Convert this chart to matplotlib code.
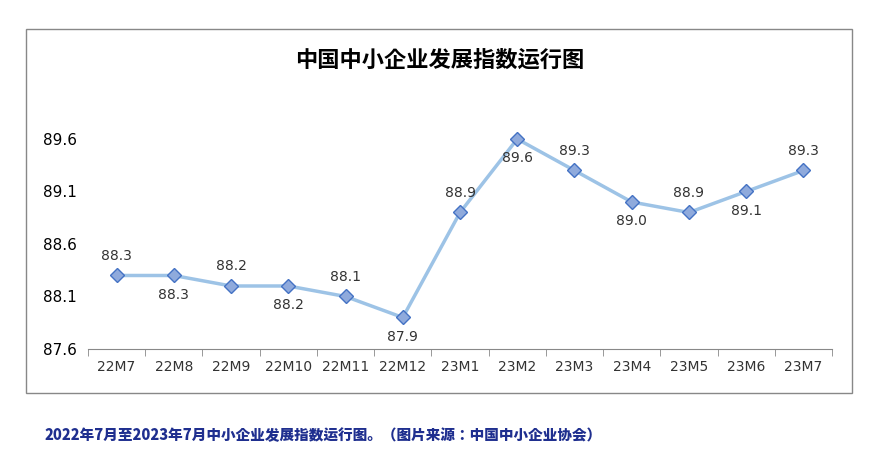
import matplotlib
matplotlib.use("Agg")
import matplotlib.pyplot as plt
from matplotlib.patches import Rectangle
from matplotlib.ticker import FixedLocator
from matplotlib import font_manager as fm

categories = ["22M7","22M8","22M9","22M10","22M11","22M12","23M1","23M2","23M3","23M4","23M5","23M6","23M7"]
values = [88.3,88.3,88.2,88.2,88.1,87.9,88.9,89.6,89.3,89.0,88.9,89.1,89.3]
label_above = [True,False,True,False,True,False,True,False,True,False,True,False,True]
yticks = [87.6,88.1,88.6,89.1,89.6]

cjk_files = [f for f in fm.findSystemFonts() if "CJK" in f or "cjk" in f.lower()]
for f in cjk_files:
    try:
        fm.fontManager.addfont(f)
    except Exception:
        pass
cjk_reg = None
cjk_bold = None
for f in sorted(cjk_files):
    low = f.lower()
    if "bold" in low and cjk_bold is None:
        cjk_bold = f
    if ("regular" in low or "cjk" in low) and "bold" not in low and cjk_reg is None:
        cjk_reg = f
def fp(path, size, weight="normal"):
    if path:
        return fm.FontProperties(fname=path, size=size, weight=weight)
    return fm.FontProperties(family="Noto Sans CJK SC", size=size, weight=weight)
title_fp = fp(cjk_bold or cjk_reg, 16, "bold")
cap_fp = fp(cjk_reg, 10.5)

fig = plt.figure(figsize=(8.8,4.67), dpi=100)
fig.patches.append(Rectangle((0.0295,0.1585),0.9386,0.779, transform=fig.transFigure,
                             fill=False, edgecolor="#888888", linewidth=1))
fig.text(0.5,0.8715,"中国中小企业发展指数运行图", ha="center", va="center", fontproperties=title_fp)
fig.text(0.051,0.068,"2022年7月至2023年7月中小企业发展指数运行图。（图片来源：中国中小企业协会）",
         ha="left", va="center", color="#1F2F8F", fontproperties=cap_fp)

ax = fig.add_axes([0.1,0.2527,0.8455,0.5396])
x = list(range(len(categories)))
ax.plot(x, values, color="#9DC3E6", linewidth=2.5, marker="D", markersize=7,
        markerfacecolor="#8FAADC", markeredgecolor="#4472C4", markeredgewidth=1, zorder=3)
for xi, v, up in zip(x, values, label_above):
    ax.annotate(f"{v:.1f}", (xi, v), xytext=(0, 9 if up else -9), textcoords="offset points",
                ha="center", va="bottom" if up else "top", fontsize=10, color="#333333")
ax.set_xlim(-0.5, len(categories)-0.5)
ax.set_ylim(87.6, 90.0)
ax.set_yticks(yticks)
ax.set_yticklabels([f"{t:.1f}" for t in yticks], fontsize=11)
ax.set_xticks(x)
ax.set_xticklabels(categories, fontsize=10, color="#333333")
ax.tick_params(axis="x", length=0, pad=8)
ax.xaxis.set_minor_locator(FixedLocator([i+0.5 for i in range(-1, len(categories))]))
ax.tick_params(axis="x", which="minor", length=5, color="#888888", direction="out")
ax.tick_params(axis="y", length=0, pad=8)
for s in ["top","right","left"]:
    ax.spines[s].set_visible(False)
ax.spines["bottom"].set_color("#888888")
ax.set_facecolor("none")
fig.savefig("out.png", dpi=100)
